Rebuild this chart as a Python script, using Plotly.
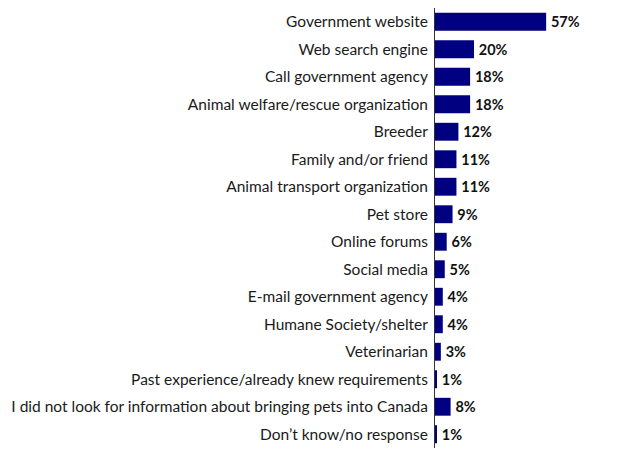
import plotly.graph_objects as go

categories = [
    "Government website",
    "Web search engine",
    "Call government agency",
    "Animal welfare/rescue organization",
    "Breeder",
    "Family and/or friend",
    "Animal transport organization",
    "Pet store",
    "Online forums",
    "Social media",
    "E-mail government agency",
    "Humane Society/shelter",
    "Veterinarian",
    "Past experience/already knew requirements",
    "I did not look for information about bringing pets into Canada",
    "Don\u2019t know/no response",
]
values = [57, 20, 18, 18, 12, 11, 11, 9, 6, 5, 4, 4, 3, 1, 8, 1]
value_labels = [f"\u2009{v}%" for v in values]

fig = go.Figure(
    go.Bar(
        x=values,
        y=categories,
        orientation="h",
        marker=dict(color="#000080", line=dict(width=0)),
        width=0.65,
        text=value_labels,
        textposition="outside",
        textfont=dict(family="Lato", size=17, color="#111111", weight="bold"),
        cliponaxis=False,
    )
)

fig.update_layout(
    width=624,
    height=468,
    margin=dict(l=435, r=72, t=8, b=20),
    paper_bgcolor="white",
    plot_bgcolor="white",
    showlegend=False,
    font=dict(family="Lato", size=15.5, color="#1a1a1a"),
    xaxis=dict(
        range=[0, 60],
        visible=False,
        showgrid=False,
        zeroline=False,
    ),
    yaxis=dict(
        autorange="reversed",
        showgrid=False,
        zeroline=False,
        showline=True,
        linecolor="#333333",
        linewidth=1,
        ticks="",
        ticklabelstandoff=3,
        tickfont=dict(family="Lato", size=15.5, color="#1a1a1a"),
    ),
    bargap=0.35,
)

fig.write_html("out.html")
